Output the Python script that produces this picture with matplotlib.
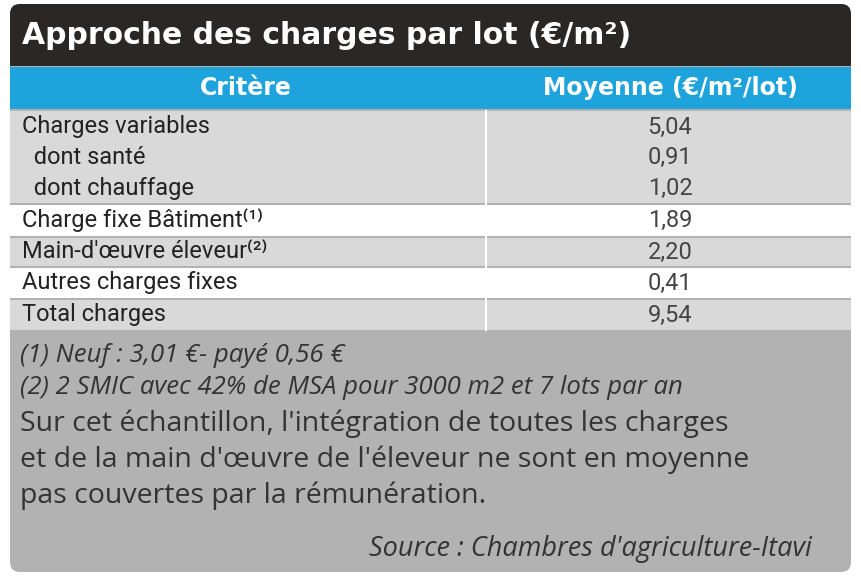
import matplotlib
matplotlib.use("Agg")
import matplotlib.pyplot as plt
from matplotlib.patches import FancyBboxPatch, Rectangle

title = "Approche des charges par lot (€/m²)"
headers = ["Critère", "Moyenne (€/m²/lot)"]
criteria = ["Charges variables", "  dont santé", "  dont chauffage",
            "Charge fixe Bâtiment⁽¹⁾", "Main-d'œuvre éleveur⁽²⁾",
            "Autres charges fixes", "Total charges"]
values = ["5,04", "0,91", "1,02", "1,89", "2,20", "0,41", "9,54"]
notes = ["(1) Neuf : 3,01 €- payé 0,56 €",
         "(2) 2 SMIC avec 42% de MSA pour 3000 m2 et 7 lots par an"]
comment = ["Sur cet échantillon, l'intégration de toutes les charges",
           "et de la main d'œuvre de l'éleveur ne sont en moyenne",
           "pas couvertes par la rémunération."]
source = "Source : Chambres d'agriculture-Itavi"

fig = plt.figure(figsize=(8.61, 5.76), dpi=100)
ax = fig.add_axes([0, 0, 1, 1])
ax.set_xlim(0, 861); ax.set_ylim(576, 0); ax.axis("off")

ax.add_patch(FancyBboxPatch((10, 4), 841, 568, boxstyle="round,pad=0,rounding_size=10",
                            fc="#b2b2b2", ec="none"))
ax.add_patch(FancyBboxPatch((10, 4), 841, 62, boxstyle="round,pad=0,rounding_size=10",
                            fc="#2a2725", ec="none"))
ax.add_patch(Rectangle((10, 40), 841, 26, fc="#2a2725", ec="none"))
ax.text(22, 36, title, color="white", fontsize=21.5, fontweight="bold", va="center",
        family="DejaVu Sans")
ax.add_patch(Rectangle((10, 67), 841, 42, fc="#1ea3dc", ec="none"))
ax.text(246, 88, headers[0], color="white", fontsize=17, fontweight="bold", ha="center", va="center")
ax.text(670, 88, headers[1], color="white", fontsize=17, fontweight="bold", ha="center", va="center")

bands = [(111, 203, "#d9d9d9"), (205, 236, "white"), (238, 266, "#d9d9d9"),
         (268, 298, "white"), (300, 330, "#d9d9d9")]
for t, b, c in bands:
    ax.add_patch(Rectangle((10, t), 841, b - t, fc=c, ec="none"))
ax.plot([486, 486], [111, 330], color="white", lw=1.5)
ys = [127, 157, 188, 220, 252, 283, 315]
for y, c, v in zip(ys, criteria, values):
    ax.text(22, y, c, fontsize=17, va="center", color="#222222", family="Roboto")
    ax.text(670, y, v, fontsize=17, va="center", ha="center", color="#444444", family="Roboto")

ax.text(20, 355, notes[0], fontsize=18.5, style="italic", va="center", color="#333333", family="Open Sans")
ax.text(20, 387, notes[1], fontsize=18.5, style="italic", va="center", color="#333333", family="Open Sans")
for i, line in enumerate(comment):
    ax.text(20, 424 + i * 36, line, fontsize=20.5, va="center", color="#333333", family="Open Sans")
ax.text(812, 549, source, fontsize=19.5, style="italic", va="center", ha="right", color="#333333", family="Open Sans")

fig.savefig("out.png", dpi=100)
